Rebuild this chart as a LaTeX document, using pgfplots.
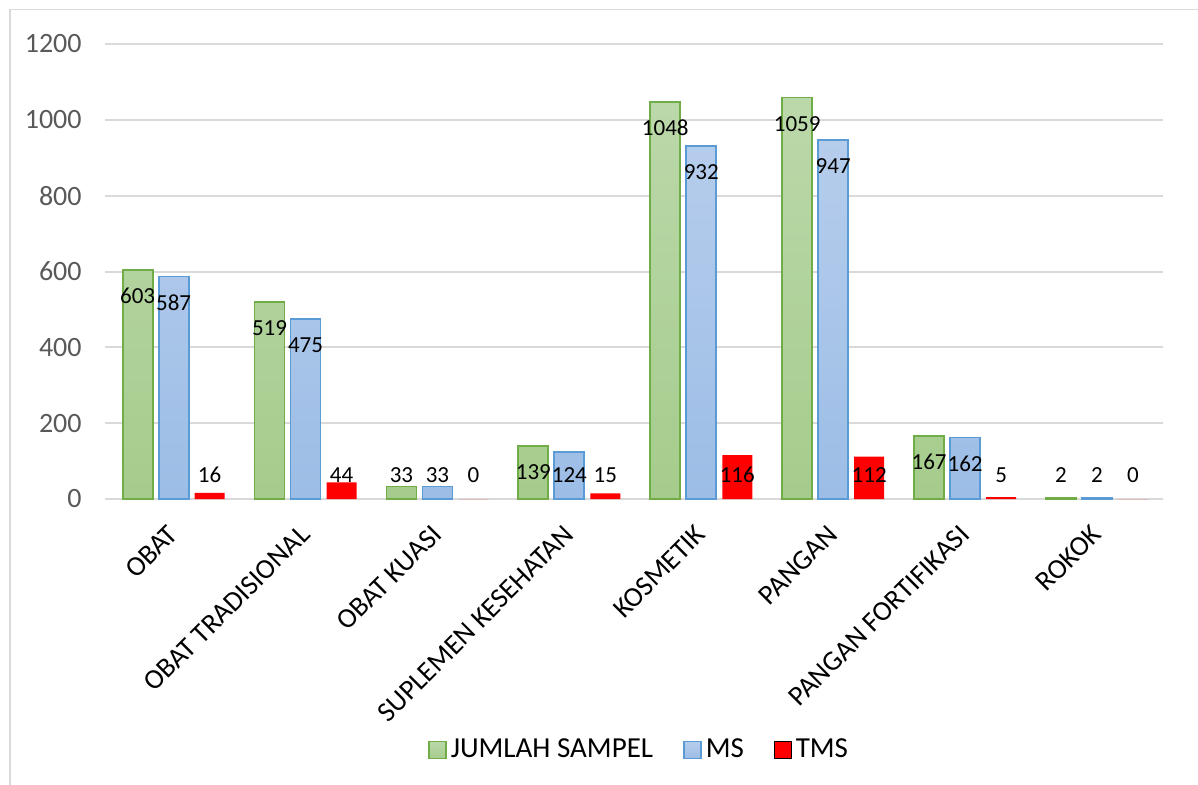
\documentclass[border=0pt]{standalone}
\usepackage{pgfplots}
\pgfplotsset{compat=1.18}
\usepackage{fontspec}
\setmainfont{Carlito}
\definecolor{gridgray}{HTML}{D9D9D9}
\definecolor{ticktext}{HTML}{595959}
\definecolor{greenline}{RGB}{112,173,71}
\definecolor{greentop}{RGB}{187,216,170}
\definecolor{greenbot}{RGB}{165,204,140}
\definecolor{blueline}{RGB}{91,155,213}
\definecolor{bluetop}{RGB}{182,205,236}
\definecolor{bluebot}{RGB}{156,189,230}
\definecolor{tmsred}{RGB}{255,0,0}

\begin{document}
\begin{tikzpicture}
\useasboundingbox (0,0) rectangle (599pt,-392.5pt);
% chart area frame (only top and left edges are in view)
\draw[gridgray, line width=0.75pt] (5pt,-400pt) -- (5pt,-4.75pt) -- (610pt,-4.75pt);
\begin{axis}[
    at={(52.5pt,-249.5pt)}, anchor=south west,
    scale only axis,
    width=529pt, height=227.5pt,
    xmin=-0.52, xmax=7.5,
    ymin=0, ymax=1200,
    ytick={0,200,...,1200},
    xtick={0,...,7},
    xticklabels={OBAT, OBAT TRADISIONAL, OBAT KUASI, SUPLEMEN KESEHATAN,
                 KOSMETIK, PANGAN, PANGAN FORTIFIKASI, ROKOK},
    axis line style={draw=none},
    major tick length=0pt,
    ymajorgrids,
    grid style={gridgray, line width=1pt},
    /pgf/number format/assume math mode=true,
    /pgf/number format/1000 sep={},
    yticklabel style={font=\fontsize{14}{16}\selectfont, text=ticktext,
                      anchor=east, inner sep=0pt, xshift=-11.5pt},
    xticklabel style={font=\fontsize{14}{16}\selectfont, text=black,
                      xshift=-3.5pt, yshift=-12pt,
                      rotate=45, anchor=north east, inner sep=0pt},
    ybar, bar width=15pt,
    nodes near coords,
    visualization depends on={rawy \as \rawy},
    every node near coord/.append style={font=\fontsize{11.5}{13}\selectfont,
        text=black, anchor=base, inner sep=0pt,
        yshift={max(-16.8, 8.5-\rawy*0.18958)}},
    legend columns=3,
    legend style={at={(0.5057,-0.5516)}, anchor=center, draw=none, fill=none,
                  font=\fontsize{14.5}{16}\selectfont,
                  /tikz/every even column/.append style={column sep=13pt}},
    legend image code/.code={\draw[#1] (0pt,-4.25pt) rectangle (8.5pt,4.25pt);},
]
\addplot[bar shift=-18pt, draw=greenline, line width=0.9pt,
         top color=greentop, bottom color=greenbot]
  coordinates {(0,603) (1,519) (2,33) (3,139) (4,1048) (5,1059) (6,167) (7,2)};
\addlegendentry{JUMLAH SAMPEL}
\addplot[bar shift=0pt, draw=blueline, line width=0.9pt,
         top color=bluetop, bottom color=bluebot]
  coordinates {(0,587) (1,475) (2,33) (3,124) (4,932) (5,947) (6,162) (7,2)};
\addlegendentry{MS}
\addplot[bar shift=18pt, draw=none, fill=tmsred]
  coordinates {(0,16) (1,44) (2,0) (3,15) (4,116) (5,112) (6,5) (7,0)};
\addlegendentry{TMS}
\end{axis}
\end{tikzpicture}
\end{document}
